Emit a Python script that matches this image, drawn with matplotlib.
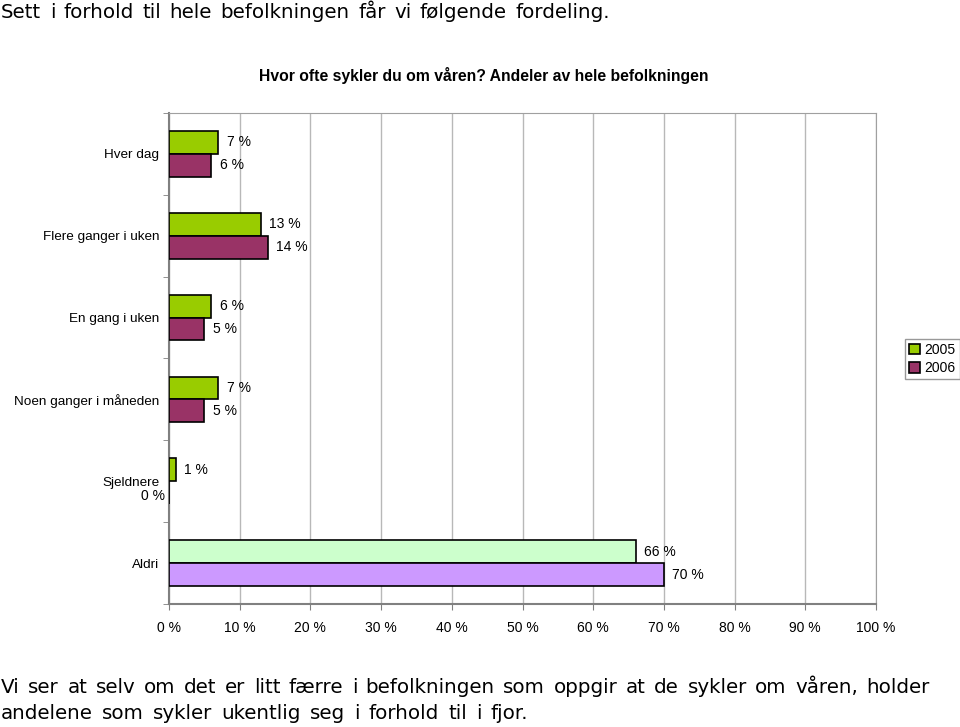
import matplotlib
matplotlib.use("Agg")
import matplotlib.pyplot as plt
import matplotlib.transforms as mtransforms
import numpy as np

plt.rcParams['font.family'] = ['Liberation Sans', 'DejaVu Sans']

categories = ["Hver dag", "Flere ganger i uken", "En gang i uken",
              "Noen ganger i måneden", "Sjeldnere", "Aldri"]
values_2005 = [7, 13, 6, 7, 1, 66]
values_2006 = [6, 14, 5, 5, 0, 70]
series_names = ["2005", "2006"]
xtick_values = [0, 10, 20, 30, 40, 50, 60, 70, 80, 90, 100]
xtick_labels = [f"{v} %" for v in xtick_values]
title = "Hvor ofte sykler du om våren? Andeler av hele befolkningen"
intro = "Sett i forhold til hele befolkningen får vi følgende fordeling."
summary_1 = "Vi ser at selv om det er litt færre i befolkningen som oppgir at de sykler om våren, holder"
summary_2 = "andelene som sykler ukentlig seg i forhold til i fjor."

green = "#99CC00"
purple = "#993366"
green_last = "#CCFFCC"
purple_last = "#CC99FF"

fig = plt.figure(figsize=(9.6, 7.27), dpi=100)
ax = fig.add_axes([169/960, 1-604/727, (876-169)/960, (604-113)/727])

n = len(categories)
y = np.arange(n)
h = 0.28
g_colors = [green]*(n-1) + [green_last]
p_colors = [purple]*(n-1) + [purple_last]

ax.barh(y - h/2, values_2005, height=h, color=g_colors, edgecolor="black",
        linewidth=1.2, label=series_names[0], zorder=3)
ax.barh(y + h/2, values_2006, height=h, color=p_colors, edgecolor="black",
        linewidth=1.2, label=series_names[1], zorder=3)

for i in range(n):
    for v, yy in ((values_2005[i], y[i] - h/2), (values_2006[i], y[i] + h/2)):
        if v == 0:
            ax.text(-0.6, yy + 0.04, f"{v} %", ha="right", va="center",
                    fontsize=10, clip_on=False, zorder=5)
        else:
            ax.annotate(f"{v} %", xy=(v, yy), xytext=(6, 0),
                        textcoords="offset points", ha="left", va="center",
                        fontsize=10, zorder=5)

ax.set_xlim(0, 100)
ax.set_ylim(n - 0.5, -0.5)
ax.set_xticks(xtick_values)
ax.set_xticklabels(xtick_labels, fontsize=10)
ax.set_yticks(y)
ax.set_yticklabels(categories, fontsize=9.7)
for lbl in ax.get_yticklabels():
    if lbl.get_text() == "Sjeldnere":
        lbl.set_transform(lbl.get_transform() +
                          mtransforms.ScaledTranslation(0, 2/72, fig.dpi_scale_trans))
ax.set_yticks(np.arange(-0.5, n, 1), minor=True)
ax.tick_params(axis="y", which="major", length=0, pad=7)
ax.tick_params(axis="y", which="minor", length=4, color="#808080", direction="out")
ax.tick_params(axis="x", length=4, color="#808080", direction="out", pad=8)
ax.grid(axis="x", color="#B8B8B8", linewidth=1, zorder=0)

for side in ("top", "right"):
    ax.spines[side].set_color("#A0A0A0")
for side in ("left", "bottom"):
    ax.spines[side].set_color("#808080")
    ax.spines[side].set_linewidth(1.5)

leg = ax.legend(loc="center left", bbox_to_anchor=(905/960, 1-359/727),
                bbox_transform=fig.transFigure, fontsize=10, frameon=True,
                fancybox=False, edgecolor="#808080", handlelength=0.8,
                handleheight=0.8, handletextpad=0.3, borderpad=0.3,
                labelspacing=0.3, borderaxespad=0)
for hdl, c in zip(leg.legend_handles, [green, purple]):
    hdl.set_facecolor(c)
    hdl.set_edgecolor("black")

fig.text(484/960, 1-76/727, title,
         ha="center", va="center", fontsize=11.3, fontweight="bold")

# Spaced-out body text: lay out words so each line spans the reference width
renderer = fig.canvas.get_renderer()


def spaced_line(text, x0_px, x1_px, base_px, size=14.3):
    words = text.split(" ")
    probes = [fig.text(0, 0, w, fontsize=size, family=["DejaVu Sans"]) for w in words]
    widths = [p.get_window_extent(renderer).width for p in probes]
    for p in probes:
        p.remove()
    gap = (x1_px - x0_px - sum(widths)) / max(len(words) - 1, 1)
    x = x0_px
    for w, wd in zip(words, widths):
        fig.text(x/960, 1-base_px/727, w, ha="left", va="baseline", fontsize=size,
                 family=["DejaVu Sans"])
        x += wd + gap


spaced_line(intro, 1, 610, 18)
spaced_line(summary_1, 1, 930, 693)
spaced_line(summary_2, 1, 528, 719)

fig.savefig("out.png", dpi=100)
